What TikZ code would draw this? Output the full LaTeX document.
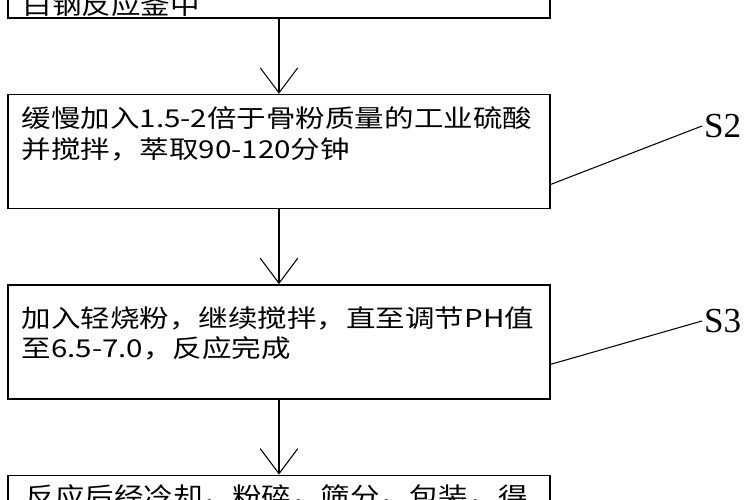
\documentclass[tikz,border=0pt]{standalone}
\usepackage{fontspec}
\setmainfont{Liberation Serif}
\newfontfamily\cjk[FakeStretch=1.2]{Noto Sans CJK SC}
\usetikzlibrary{positioning, arrows.meta}

\begin{document}
\begin{tikzpicture}[
    node distance=1.5cm,
    box/.style={rectangle, draw, line width=0.8pt, minimum width=10.84cm, minimum height=2.28cm, inner sep=0pt},
    txt/.style={inner sep=0pt, align=left, font=\cjk\fontsize{14}{17.5}\selectfont},
    tag/.style={anchor=west, inner sep=1pt, font=\fontsize{20}{22}\selectfont},
    arrow/.style={-{Straight Barb[length=0.5cm, width=0.75cm]}, line width=0.6pt},
    lead/.style={line width=0.6pt}
]
\useasboundingbox (0,0) rectangle (15,-10);

% Steps
\node[box] (s1) at (5.58,0.78) {};
\node[box, below=of s1] (s2) {};
\node[box, below=of s2] (s3) {};
\node[box, below=of s3] (s4) {};

% Texts
\node[txt, anchor=base west] (t1) at ([xshift=0.3cm, yshift=0.08cm]s1.south west) {白钢反应釜中};
\node[txt, below right=0.25cm and 0.28cm of s2.north west] (t2) {缓慢加入1.5-2倍于骨粉质量的工业硫酸\\并搅拌，萃取90-120分钟};
\node[txt, below right=0.44cm and 0.28cm of s3.north west] (t3) {加入轻烧粉，继续搅拌，直至调节PH值\\至6.5-7.0，反应完成};
\node[txt, below right=0.2cm and 0.36cm of s4.north west] (t4) {反应后经冷却，粉碎，筛分，包装，得};

% Labels
\node[tag] (l2) at (14.04,-2.52) {S2};
\node[tag] (l3) at (14.04,-6.42) {S3};

% Arrows
\draw[arrow] (s1) -- (s2);
\draw[arrow] (s2) -- (s3);
\draw[arrow] (s3) -- (s4);
\draw[lead] ([yshift=-0.66cm]s2.east) -- (l2.west);
\draw[lead] ([yshift=-0.45cm]s3.east) -- (l3.west);
\end{tikzpicture}
\end{document}
